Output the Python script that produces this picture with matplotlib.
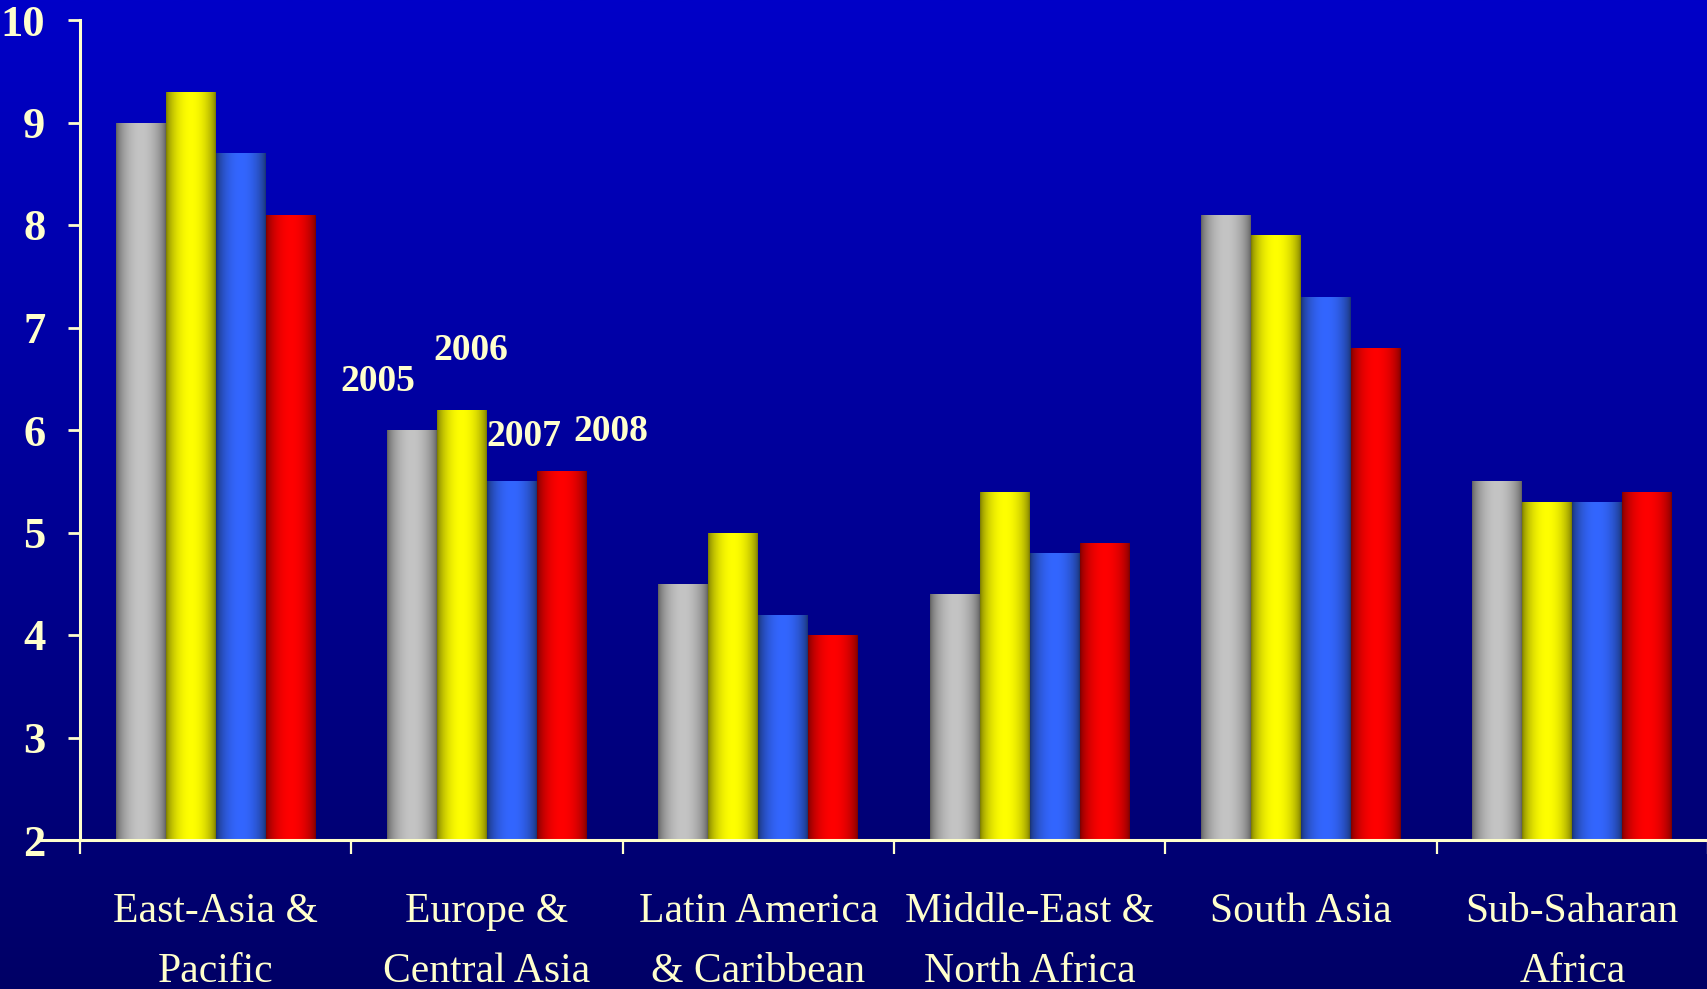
import numpy as np
import matplotlib
matplotlib.use("Agg")
import matplotlib.pyplot as plt
from matplotlib.colors import to_rgb
from matplotlib.lines import Line2D

# ---------------- data ----------------
regions = ["East-Asia &\nPacific", "Europe &\nCentral Asia", "Latin America\n& Caribbean",
           "Middle-East &\nNorth Africa", "South Asia", "Sub-Saharan\nAfrica"]
years = ["2005", "2006", "2007", "2008"]
v2005 = [9.0, 6.0, 4.5, 4.4, 8.1, 5.5]
v2006 = [9.3, 6.2, 5.0, 5.4, 7.9, 5.3]
v2007 = [8.7, 5.5, 4.2, 4.8, 7.3, 5.3]
v2008 = [8.1, 5.6, 4.0, 4.9, 6.8, 5.4]
yticks = [2, 3, 4, 5, 6, 7, 8, 9, 10]
# year label positions (category index, value) placed over the Europe group
year_label_pos = [(0.598, 6.47), (0.941, 6.78), (1.136, 5.94), (1.457, 5.99)]

series = [v2005, v2006, v2007, v2008]
light = ["#C4C4C4", "#FFFF00", "#3366FF", "#FF0000"]
dark = ["#5A5A5A", "#747400", "#18306A", "#740000"]
cream = "#FFFFCC"

plt.rcParams["font.family"] = ["Liberation Serif", "DejaVu Serif"]

fig = plt.figure(figsize=(17.08, 9.89), dpi=100)

# background gradient
bg = fig.add_axes([0, 0, 1, 1], zorder=-10)
top = np.array(to_rgb("#0000C8"))
bot = np.array(to_rgb("#000066"))
tt = np.linspace(0, 1, 256)[:, None]
grad = top[None, :] * (1 - tt) + bot[None, :] * tt
bg.imshow(grad[:, None, :], extent=[0, 1, 0, 1], aspect="auto", interpolation="bilinear")
bg.set_axis_off()

ax = fig.add_axes([80 / 1708, 1 - 840 / 989, 1 - 80 / 1708, (840 - 20) / 989])
ax.set_facecolor("none")

n = len(regions)
x = np.arange(n)
w = 0.184
offsets = [-1.5 * w, -0.5 * w, 0.5 * w, 1.5 * w]
base = yticks[0]

t = np.linspace(0, 1, 200)
shape = np.sin(np.pi * t) ** 0.6

for vals, off, lc, dc in zip(series, offsets, light, dark):
    lc_ = np.array(to_rgb(lc))
    dc_ = np.array(to_rgb(dc))
    row = dc_[None, :] + (lc_ - dc_)[None, :] * shape[:, None]
    img = row[None, :, :]
    bars = ax.bar(x + off, np.array(vals) - base, width=w, bottom=base,
                  color="none", edgecolor="none", zorder=2)
    for p in bars.patches:
        x0 = p.get_x()
        y0 = p.get_y()
        im = ax.imshow(img, extent=[x0, x0 + p.get_width(), y0, y0 + p.get_height()],
                       aspect="auto", interpolation="bilinear", zorder=2)
        im.set_clip_path(p)

ax.set_xlim(-0.5, n - 0.5)
ax.set_ylim(yticks[0], yticks[-1])
ax.set_aspect("auto")

# spines
for s in ["top", "right"]:
    ax.spines[s].set_visible(False)
for s in ["left", "bottom"]:
    ax.spines[s].set_color(cream)
    ax.spines[s].set_linewidth(2.2)

# y ticks
ax.set_yticks(yticks)
ax.set_yticklabels([str(v) for v in yticks])
ax.tick_params(axis="y", direction="out", length=9, width=2, color=cream,
               labelcolor=cream, labelsize=32, pad=16)
for lab in ax.get_yticklabels():
    lab.set_fontweight("bold")

# x ticks: boundaries as major, labels as minor
ax.set_xticks(np.arange(n + 1) - 0.5)
ax.set_xticklabels([])
ax.tick_params(axis="x", which="major", direction="out", length=10, width=1.6, color=cream)
ax.set_xticks(x, minor=True)
ax.set_xticklabels(regions, minor=True)
ax.tick_params(axis="x", which="minor", length=0, labelcolor=cream, labelsize=30, pad=38)
for lab in ax.get_xticklabels(minor=True):
    lab.set_linespacing(1.72)

# small extension of the x axis line to the left
ax.add_line(Line2D([-0.026, 0], [0, 0], transform=ax.transAxes, color=cream,
                   linewidth=2.2, clip_on=False))

# year labels
for (px, py), yr in zip(year_label_pos, years):
    ax.text(px, py, yr, ha="center", va="center", color=cream, fontsize=27,
            fontweight="bold", zorder=5)

fig.savefig("out.png", dpi=100)
